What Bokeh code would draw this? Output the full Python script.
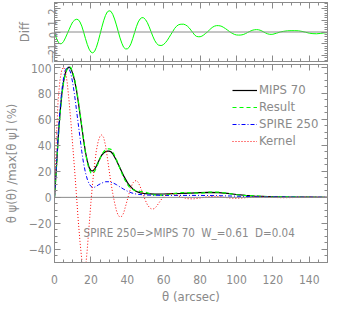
import math
from bokeh.plotting import figure
from bokeh.models import (Range1d, LinearAxis, Legend, LegendItem, Label, Span,
                          SingleIntervalTicker, CustomJSTickFormatter)
from bokeh.layouts import column
from bokeh.embed import file_html
from bokeh.resources import INLINE

# ---------------- data ----------------
theta_diff = [0, 1, 2, 3, 4, 5, 6, 7, 8, 9, 10, 11, 12, 13, 14, 15, 16, 17, 18, 19,
              20, 21, 22, 23, 24, 25, 26, 27, 28, 29, 30, 31, 32, 33, 34, 35, 36, 37, 38, 39,
              40, 41, 42, 43, 44, 45, 46, 47, 48, 49, 50, 51, 52, 53, 54, 55, 56, 57, 58, 59,
              60, 61, 62, 63, 64, 65, 66, 67, 68, 69, 70, 71, 72, 73, 74, 75, 76, 77, 78, 79,
              80, 81, 82, 83, 84, 85, 86, 87, 88, 89, 90, 91, 92, 93, 94, 95, 96, 97, 98, 99,
              100, 101, 102, 103, 104, 105, 106, 107, 108, 109, 110, 111, 112, 113, 114, 115,
              116, 117, 118, 119, 120, 122, 124, 126, 128, 130, 132, 134, 136, 138, 140, 142,
              144, 146, 148, 150]
diff = [0, -0.5, -0.85, -1.0, -0.98, -0.8, -0.5, -0.15, 0.2, 0.55, 0.85, 1.0, 1.08, 1.05, 0.85,
        0.5, 0.0, -0.55, -1.05, -1.45, -1.7, -1.77, -1.65, -1.3, -0.8, -0.2, 0.4, 0.95, 1.4, 1.7,
        1.8, 1.75, 1.5, 1.1, 0.6, 0.05, -0.5, -0.95, -1.3, -1.43, -1.43, -1.3, -1.0, -0.55, -0.05,
        0.45, 0.85, 1.1, 1.22, 1.2, 1.05, 0.8, 0.45, 0.05, -0.35, -0.7, -0.95, -1.1, -1.14, -1.14,
        -1.05, -0.9, -0.7, -0.45, -0.2, 0.05, 0.3, 0.48, 0.6, 0.65, 0.66, 0.66, 0.6, 0.5, 0.35,
        0.15, -0.05, -0.25, -0.37, -0.4, -0.4, -0.35, -0.25, -0.12, 0.0, 0.15, 0.3, 0.42, 0.5,
        0.54, 0.54, 0.52, 0.47, 0.38, 0.28, 0.17, 0.05, -0.05, -0.14, -0.21, -0.25, -0.26, -0.26,
        -0.24, -0.2, -0.13, -0.05, 0.03, 0.1, 0.16, 0.19, 0.2, 0.19, 0.15, 0.08, 0.0, -0.08,
        -0.15, -0.19, -0.2, -0.19, -0.1, 0.0, 0.06, 0.1, 0.11, 0.11, 0.1, 0.05, -0.02, -0.1,
        -0.14, -0.15, -0.12, -0.08, -0.05]

theta_psf = [0, 1, 2, 3, 4, 5, 6, 7, 8, 9, 10, 11, 12, 13, 14, 15, 16, 17, 18, 19,
             20, 21, 22, 23, 24, 25, 26, 27, 28, 29, 30, 31, 32, 33, 34, 35, 36, 37, 38, 39,
             40, 41, 42, 43, 44, 45, 46, 47, 48, 50, 55, 60, 65, 70, 75, 80, 85, 90, 95, 100,
             105, 110, 115, 120, 130, 140, 150]
mips70 = [0, 22, 45, 64, 79, 89, 95.5, 99, 100, 99, 95, 90, 83, 74, 64, 54, 44, 35, 28, 23,
          20.5, 20.3, 21.5, 24, 27, 30, 32.5, 34, 35, 35.5, 35.5, 35, 33.5, 31, 28.5, 25.5, 22.5,
          19.5, 16.5, 14, 11.5, 9.5, 8, 6.5, 5.5, 4.5, 4, 3.5, 3.2, 2.8, 2.5, 2.6, 2.8, 3.0, 3.3,
          3.6, 3.8, 3.6, 3.0, 2.2, 1.5, 1.0, 0.7, 0.5, 0.3, 0.2, 0.1]
result = [0, 21.5, 44.2, 63, 78, 88.2, 95, 98.9, 100.2, 99.6, 95.9, 91, 84.1, 75, 64.9, 54.5,
          44, 34.5, 27, 21.6, 18.8, 18.5, 19.9, 22.7, 26.2, 29.8, 32.9, 35, 36.4, 37.2, 37.3,
          36.8, 35, 32.1, 29.1, 25.6, 22, 18.6, 15.2, 12.6, 10.1, 8.2, 7, 6, 5.5, 5, 4.9, 4.6,
          4.4, 3.9, 1.8, 1.6, 2.9, 3.7, 3.5, 3.2, 4.0, 4.1, 3.2, 2.0, 1.4, 1.2, 0.7, 0.3, 0.4,
          0.1, 0.05]

theta_spire = [0, 1, 2, 3, 4, 5, 6, 7, 8, 9, 10, 11, 12, 13, 14, 15, 16, 17, 18, 19, 20, 21,
               22, 23, 24, 26, 28, 30, 32, 34, 36, 38, 40, 42, 44, 46, 50, 60, 70, 80, 90, 100,
               110, 120, 130, 150]
spire250 = [0, 24, 48, 67, 82, 92, 98, 100, 99, 95, 88, 79, 68, 57, 46, 35, 26, 19, 14, 10.5,
            8.5, 7.5, 7.8, 8.5, 9.5, 11, 12, 12, 11.2, 9.8, 8, 6.3, 4.8, 3.6, 2.8, 2.3, 1.8, 1.5,
            1.5, 1.5, 1.3, 0.9, 0.5, 0.3, 0.2, 0.1]

theta_kernel = [0, 1, 2, 3, 4, 5, 6, 7, 8, 9, 10, 11, 12, 13, 14, 15, 16, 17, 18, 19, 20, 21,
                22, 23, 24, 25, 26, 27, 28, 29, 30, 31, 32, 33, 34, 35, 36, 37, 38, 39, 40, 41,
                42, 43, 44, 45, 46, 47, 48, 49, 50, 51, 52, 53, 54, 55, 56, 57, 58, 59, 60, 62,
                64, 66, 68, 70, 73, 76, 80, 84, 88, 92, 96, 100, 105, 110, 115, 120, 125, 130,
                135, 140, 150]
kernel = [0, 45, 75, 90, 98, 100, 97, 88, 74, 58, 40, 22, 3, -17, -34, -48, -60, -55, -40, -22,
          -4, 12, 25, 36, 43, 47, 48, 46, 40, 31, 21, 11, 3, -4, -10, -14, -15, -14.5, -12, -7,
          -2, 3, 7.5, 11, 12.5, 13, 11.5, 8.5, 5, 1, -2.5, -5.5, -7.5, -8.8, -9, -8.5, -7, -5,
          -3, -1, 0.5, 2.5, 3, 2.5, 1.2, 0, -1, -1.2, -0.5, 0.5, 0.8, 0.3, -0.5, -0.8, -0.3,
          0.3, 0.4, 0, -0.3, -0.2, 0.1, 0.1, 0]

x_ticks_interval = 20
legend_labels = ["MIPS 70", "Result", "SPIRE 250", "Kernel"]
annotation = "SPIRE 250=>MIPS 70\u00a0\u00a0W_=0.61\u00a0\u00a0D=0.04"

# ---------------- style ----------------
GRAY = "#8a8a8a"
FONT = "DejaVu Sans Condensed, Liberation Sans"
FS = "12px"


def make_axis(interval, minor, labels=True, orient="horizontal", standoff=3, fs=FS):
    ax = LinearAxis(ticker=SingleIntervalTicker(interval=interval, num_minor_ticks=minor),
                    axis_line_color=GRAY, major_tick_line_color=GRAY, minor_tick_line_color=GRAY,
                    major_tick_in=6, major_tick_out=0, minor_tick_in=3, minor_tick_out=0,
                    major_label_text_color=GRAY, major_label_text_font=FONT,
                    major_label_text_font_size=fs, major_label_standoff=standoff,
                    major_label_orientation=orient,
                    axis_label_text_color=GRAY, axis_label_text_font=FONT,
                    axis_label_text_font_style="normal", axis_label_text_font_size="13px")
    if not labels:
        ax.formatter = CustomJSTickFormatter(code="return ''")
        ax.major_label_text_font_size = "1px"
        ax.major_label_standoff = 0
    return ax


def base_fig(h, yr, mb_top, mb_bottom):
    p = figure(width=338, height=h, x_range=Range1d(0, 150), y_range=yr,
               x_axis_type=None, y_axis_type=None, output_backend="svg",
               toolbar_location=None, min_border_left=51, min_border_right=11,
               min_border_top=mb_top, min_border_bottom=mb_bottom)
    p.outline_line_color = GRAY
    p.background_fill_color = "white"
    p.border_fill_color = "white"
    p.add_layout(Span(location=0, dimension="width", line_color=GRAY, line_width=1))
    return p


# ---------------- top panel (Diff) ----------------
top = base_fig(63, Range1d(-2.5, 2.5), 2, 2)
top.add_layout(make_axis(x_ticks_interval, 4, labels=False), "below")
top.add_layout(make_axis(x_ticks_interval, 4, labels=False), "above")
ly = make_axis(1, 5, orient=math.pi / 2, standoff=2, fs="11px")
ly.axis_label = "Diff"
ly.axis_label_standoff = 10
top.add_layout(ly, "left")
top.add_layout(make_axis(1, 5, labels=False), "right")
top.line(theta_diff, diff, line_color="#00ff00", line_width=1)

# ---------------- bottom panel ----------------
bot = base_fig(249, Range1d(-50, 102), 1, 50)
bx = make_axis(x_ticks_interval, 4, standoff=12)
bx.axis_label = "\u03b8 (arcsec)"
bx.axis_label_standoff = 2
bot.add_layout(bx, "below")
bot.add_layout(make_axis(x_ticks_interval, 4, labels=False), "above")
by = make_axis(20, 4)
by.axis_label = "\u03b8 \u03c8(\u03b8) /max[\u03b8 \u03c8] (%)"
by.axis_label_standoff = 7
bot.add_layout(by, "left")
bot.add_layout(make_axis(20, 4, labels=False), "right")

r_m = bot.line(theta_psf, mips70, line_color="black", line_width=1.2)
r_r = bot.line(theta_psf, result, line_color="#00ff00", line_width=1.2, line_dash="4 3")
r_s = bot.line(theta_spire, spire250, line_color="#0000ff", line_width=1, line_dash="4 2 1 2")
r_k = bot.line(theta_kernel, kernel, line_color="#ff0000", line_width=1, line_dash="1 2")

legend = Legend(items=[LegendItem(label=l, renderers=[r]) for l, r in
                       zip(legend_labels, [r_m, r_r, r_s, r_k])],
                location=(178, 114), border_line_color=None, background_fill_alpha=0,
                label_text_font=FONT, label_text_font_size="13px", label_text_color=GRAY,
                glyph_width=25, glyph_height=12, label_height=12, spacing=2,
                padding=0, margin=0, label_standoff=2)
bot.add_layout(legend)

bot.add_layout(Label(x=16, y=-27, text=annotation, text_baseline="middle",
                     text_font=FONT, text_font_size="11.5px", text_color=GRAY))

layout = column(top, bot)
open("out.html", "w").write(file_html(layout, INLINE))
